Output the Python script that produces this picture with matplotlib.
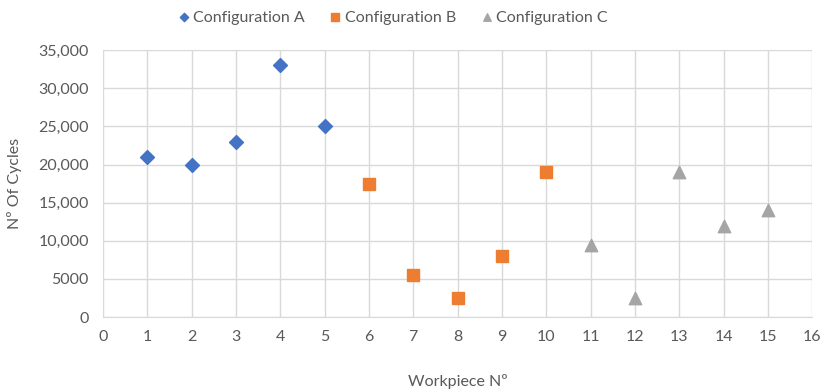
import matplotlib
matplotlib.use("Agg")
import matplotlib.pyplot as plt

plt.rcParams['font.family'] = ['Lato', 'DejaVu Sans']

workpiece_a = [1, 2, 3, 4, 5]
cycles_a = [21000, 20000, 23000, 33000, 25000]
workpiece_b = [6, 7, 8, 9, 10]
cycles_b = [17500, 5500, 2500, 8000, 19000]
workpiece_c = [11, 12, 13, 14, 15]
cycles_c = [9500, 2500, 19000, 12000, 14000]

series_names = ["Configuration A", "Configuration B", "Configuration C"]
y_ticks = [0, 5000, 10000, 15000, 20000, 25000, 30000, 35000]
y_tick_labels = ["0", "5000", "10,000", "15,000", "20,000", "25,000", "30,000", "35,000"]
x_ticks = list(range(0, 17))

fig = plt.figure(figsize=(8.23, 3.92), dpi=100)
ax = fig.add_axes([0.125, 0.191, 0.862, 0.681])

text_color = "#595959"
grid_color = "#d9d9d9"

ax.scatter(workpiece_a, cycles_a, marker="D", s=50, color="#4472C4", label=series_names[0], zorder=3)
ax.scatter(workpiece_b, cycles_b, marker="s", s=80, color="#ED7D31", label=series_names[1], zorder=3)
ax.scatter(workpiece_c, cycles_c, marker="^", s=80, color="#A5A5A5", label=series_names[2], zorder=3)

ax.set_xlim(0, 16)
ax.set_ylim(0, 35000)
ax.set_xticks(x_ticks)
ax.set_yticks(y_ticks)
ax.set_yticklabels(y_tick_labels)
ax.grid(True, color=grid_color, linewidth=1)
ax.set_axisbelow(True)
for side in ["top", "right", "left"]:
    ax.spines[side].set_visible(False)
ax.spines["bottom"].set_color(grid_color)
ax.tick_params(axis="both", length=0, labelsize=11.5, colors=text_color, pad=10)
ax.tick_params(axis="x", pad=9)

ax.set_xlabel("Workpiece Nº", fontsize=11.5, color=text_color, labelpad=22)
ax.set_ylabel("Nº Of Cycles", fontsize=11.5, color=text_color, labelpad=12)

fig.legend(loc="upper center", bbox_to_anchor=(0.475, 1.01), ncol=3, frameon=False,
           fontsize=11.5, labelcolor=text_color, handletextpad=0.0, columnspacing=1.3,
           markerscale=0.6, handlelength=1.2)

fig.savefig("out.png", dpi=100)
